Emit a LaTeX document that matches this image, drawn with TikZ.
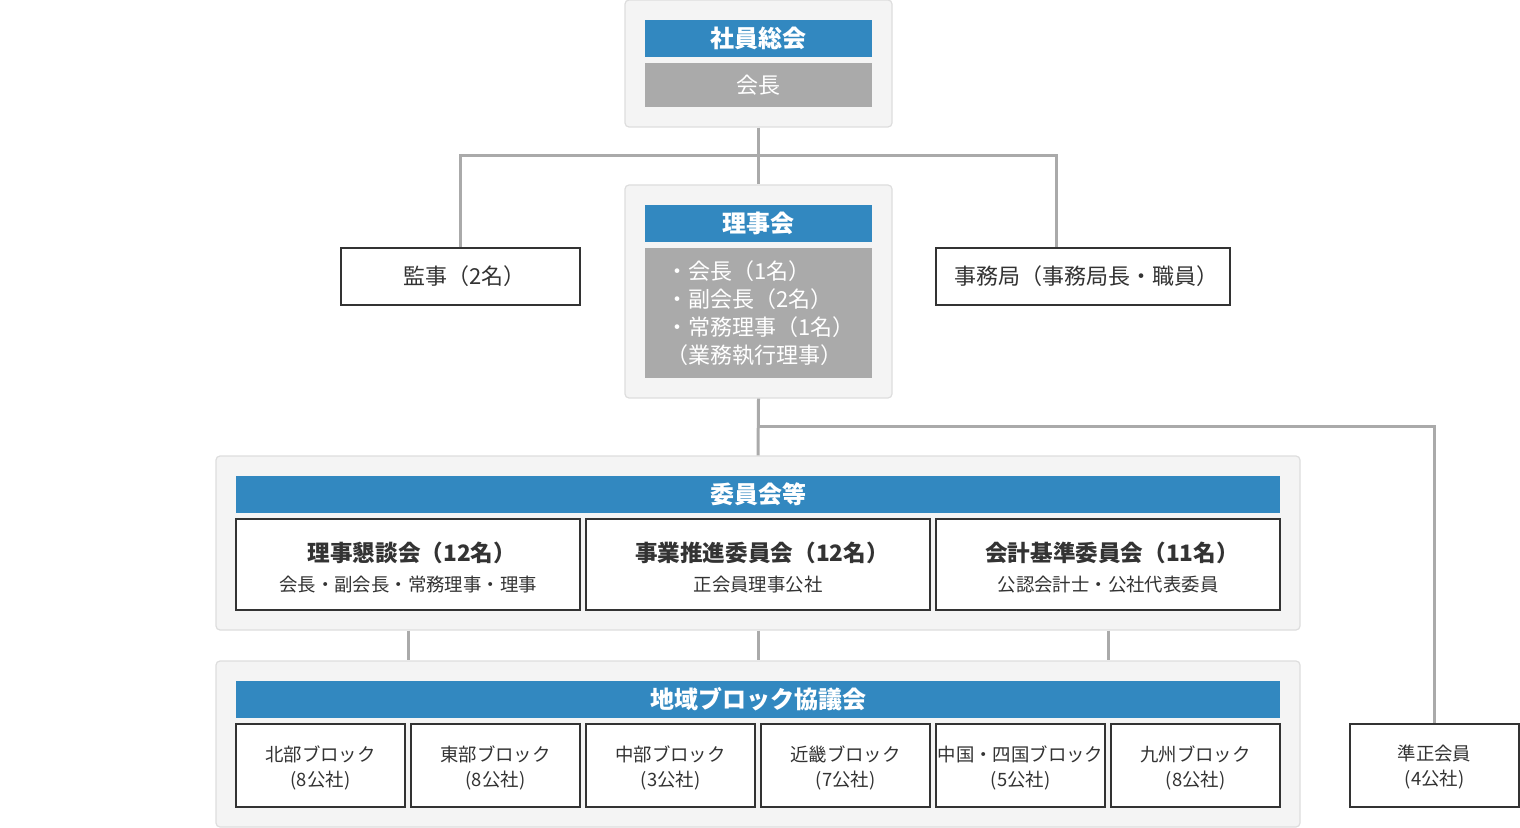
\documentclass[tikz,border=0pt]{standalone}
\usepackage{fontspec}
\setmainfont{Noto Sans CJK JP}
\usetikzlibrary{positioning,fit}
\definecolor{barblue}{RGB}{50,136,192}
\definecolor{bargray}{RGB}{170,170,170}
\definecolor{panelfill}{RGB}{244,244,244}
\definecolor{panelline}{RGB}{221,221,221}
\definecolor{boxline}{RGB}{51,51,51}
\definecolor{textdark}{RGB}{51,51,51}
\definecolor{linkgray}{RGB}{170,170,170}
\tikzset{
  panel/.style = {draw=panelline, fill=panelfill, rounded corners=2pt, line width=0.6pt, inner sep=0pt},
  bluebar/.style = {fill=barblue, inner sep=0pt},
  graybar/.style = {fill=bargray, inner sep=0pt},
  bartext/.style = {text=white, inner sep=0pt, font=\bfseries\fontsize{12}{14}\selectfont},
  bodytext/.style = {text=white, inner sep=0pt, align=left, font=\fontsize{11}{14}\selectfont},
  box/.style = {draw=boxline, fill=white, line width=0.7pt, inner sep=0pt},
  boxtext/.style = {text=textdark, inner sep=0pt, align=center},
  link/.style = {draw=linkgray, line width=1.5pt},
}
\newcommand{\boxtitle}{\bfseries\fontsize{11.3}{14}\selectfont}
\newcommand{\boxsub}{\mdseries\fontsize{9.2}{12}\selectfont}
\newcommand{\blocktext}{\fontsize{9.2}{12.5}\selectfont}
\newcommand{\closep}{）\kern-0.35em}

\begin{document}
\begin{tikzpicture}[x=0.5pt, y=-0.5pt]
    \useasboundingbox (0,0) rectangle (1520,828);

    % general meeting
    \node [panel, fit={(625,0) (892,127)}]   (sokai) {};
    \node [bluebar, fit={(645,20) (872,57)}] (sokaibar) {};
    \node [graybar, fit={(645,63) (872,107)}] (kaicho) {};
    \node [bartext] at (sokaibar) {社員総会};
    \node [bodytext] at (kaicho) {会長};

    % board
    \node [panel, fit={(625,185) (892,398)}]   (rijikai) {};
    \node [bluebar, fit={(645,205) (872,242)}] (rijikaibar) {};
    \node [graybar, fit={(645,248) (872,378)}] (rijikaibody) {};
    \node [bartext] at (rijikaibar) {理事会};
    \node [bodytext] at ([xshift=1pt]rijikaibody)
        {・会長（1名）\\・副会長（2名）\\・常務理事（1名）\\（業務執行理事）};

    \node [box, fit={(341,248) (580,305)}]  (kanji) {};
    \node [box, fit={(936,248) (1230,305)}] (jimu)  {};
    \node [boxtext, font=\fontsize{11}{14}\selectfont] at (kanji) {監事（2名\closep};
    \node [boxtext, font=\fontsize{11}{14}\selectfont] at (jimu)  {事務局（事務局長・職員\closep};

    % committees
    \node [panel, fit={(216,456) (1300,630)}]   (iinkai) {};
    \node [bluebar, fit={(236,476) (1280,513)}] (iinkaibar) {};
    \node [bartext] at (iinkaibar) {委員会等};
    \node [box, fit={(236,519) (580,610)}]  (konwa)   {};
    \node [box, fit={(586,519) (930,610)}]  (suishin) {};
    \node [box, fit={(936,519) (1280,610)}] (kaikei)  {};
    \node [boxtext] at ([yshift=-1.5pt]konwa)
        {\boxtitle 理事懇談会（12名\closep\\[3pt]\boxsub 会長・副会長・常務理事・理事};
    \node [boxtext] at ([yshift=-1.5pt]suishin)
        {\boxtitle 事業推進委員会（12名\closep\\[3pt]\boxsub 正会員理事公社};
    \node [boxtext] at ([yshift=-1.5pt]kaikei)
        {\boxtitle 会計基準委員会（11名\closep\\[3pt]\boxsub 公認会計士・公社代表委員};

    % regional blocks
    \node [panel, fit={(216,661) (1300,827)}]   (block) {};
    \node [bluebar, fit={(236,681) (1280,718)}] (blockbar) {};
    \node [bartext] at (blockbar) {地域ブロック協議会};
    \foreach \x/\name/\txt/\num in {236/hokubu/北部ブロック/8, 411/tobu/東部ブロック/8,
                                    586/chubu/中部ブロック/3, 761/kinki/近畿ブロック/7,
                                    936/chugoku/中国・四国ブロック/5, 1111/kyushu/九州ブロック/8} {
        \node [box, fit={(\x,724) (\x+169,807)}] (\name) {};
        \node [boxtext, font=\blocktext] at ([yshift=-1pt]\name) {\txt\\(\num 公社)};
    }

    \node [box, fit={(1350,724) (1519,807)}] (junsei) {};
    \node [boxtext, font=\blocktext] at ([yshift=-1pt]junsei) {準正会員\\(4公社)};

    % connectors
    \coordinate (j1)  at (759,156);
    \coordinate (j1r) at (1056,156);
    \coordinate (j2)  at (759,427);
    \draw [link] (sokai.south) -- (rijikai.north);
    \draw [link] (kanji.north) |- (j1) -- (j1r) -- (j1r |- jimu.north);
    \draw [link] (rijikai.south) -- (iinkai.north);
    \draw [link] (j2) -| (junsei.north);
    \draw [link] (konwa.south |- iinkai.south)   -- (konwa.south |- block.north);
    \draw [link] (suishin.south |- iinkai.south) -- (suishin.south |- block.north);
    \draw [link] (kaikei.south |- iinkai.south)  -- (kaikei.south |- block.north);
\end{tikzpicture}
\end{document}
